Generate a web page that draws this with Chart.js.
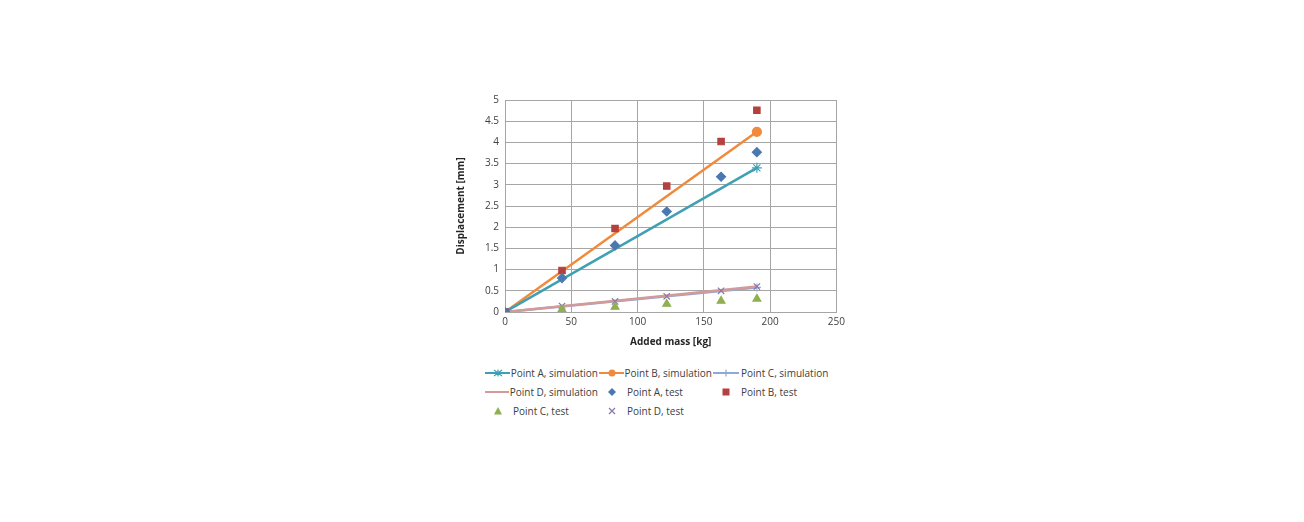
<!DOCTYPE html>
<html lang="en">
<head>
<meta charset="UTF-8">
<title>Displacement vs added mass</title>
<script src="https://cdn.jsdelivr.net/npm/chart.js"></script>
<style>
  body { margin: 0; background: #fff; font-family: "Open Sans", sans-serif; }
  #wrap { position: absolute; left: 455px; top: 88px; width: 394px; height: 264px; }
  #legend { position: absolute; left: 484px; top: 366px; display: grid;
    grid-template-columns: 114px 114px 120px; row-gap: 5px; font-size: 10px; color: #404040; }
  #legend div { display: flex; align-items: center; white-space: nowrap; }
  #legend svg { margin-right: 1px; }
</style>
</head>
<body>
<div id="wrap"><canvas id="myChart"></canvas></div>
<div id="legend"></div>
<script>
const simMass = [0, 190];
const simA = [0, 3.4];
const simB = [0, 4.25];
const simC = [0, 0.58];
const simD = [0, 0.6];

const testMass = [0, 43, 83, 122, 163, 190];
const testA = [0, 0.8, 1.57, 2.37, 3.19, 3.77];
const testB = [0, 0.98, 1.97, 2.97, 4.02, 4.76];
const testC = [0, 0.06, 0.12, 0.19, 0.26, 0.31];
const testD = [0, 0.14, 0.25, 0.37, 0.5, 0.6];

function pts(xs, ys) { return xs.map((x, i) => ({ x: x, y: ys[i] })); }

const series = [
  { label: 'Point A, simulation', data: pts(simMass, simA), color: '#3fa0b4', line: true, style: 'star', order: 2 },
  { label: 'Point B, simulation', data: pts(simMass, simB), color: '#f08a3c', line: true, style: 'circle', order: 2 },
  { label: 'Point C, simulation', data: pts(simMass, simC), color: '#8fa9d6', line: true, style: 'cross', order: 4 },
  { label: 'Point D, simulation', data: pts(simMass, simD), color: '#d49a98', line: true, style: false, order: 3 },
  { label: 'Point A, test', data: pts(testMass, testA), color: '#4a78b0', line: false, style: 'rectRot', order: 1 },
  { label: 'Point B, test', data: pts(testMass, testB), color: '#b5413e', line: false, style: 'rect', order: 1 },
  { label: 'Point C, test', data: pts(testMass, testC), color: '#8fb050', line: false, style: 'triangle', order: 1 },
  { label: 'Point D, test', data: pts(testMass, testD), color: '#8a78a8', line: false, style: 'crossRot', order: 1 }
];

const sizes = { star: 5, circle: 4.5, cross: 4, rectRot: 4.5, rect: 4.5, triangle: 4.5, crossRot: 4.5 };

const datasets = series.map(s => ({
  label: s.label,
  data: s.data,
  showLine: s.line,
  borderColor: s.color,
  backgroundColor: s.color,
  borderWidth: s.line ? 2.5 : 1,
  pointStyle: s.style,
  pointRadius: s.style ? sizes[s.style] : 0,
  pointBorderWidth: 1.2,
  order: s.order
}));
// only show simulation markers at the end point
datasets.slice(0, 4).forEach(d => { d.pointRadius = d.data.map((p, i) => i === 0 ? 0 : d.pointRadius); });

const tickFont = { family: 'Open Sans', size: 10 };
const grid = { color: '#a6a6a6', lineWidth: 1, drawTicks: false };

new Chart(document.getElementById('myChart'), {
  type: 'scatter',
  data: { datasets: datasets },
  options: {
    responsive: true,
    maintainAspectRatio: false,
    animation: false,
    layout: { padding: { top: 9, right: 6 } },
    plugins: { legend: { display: false }, tooltip: { enabled: false } },
    scales: {
      x: {
        min: 0, max: 250,
        ticks: { stepSize: 50, color: '#404040', font: tickFont, padding: 4 },
        grid: grid, border: { color: '#a6a6a6' },
        title: { display: true, text: 'Added mass [kg]', color: '#262626',
                 font: { family: 'Open Sans', size: 10, weight: 'bold' }, padding: { top: 4 } }
      },
      y: {
        min: 0, max: 5,
        afterFit: a => { a.width = 50; },
        ticks: { stepSize: 0.5, color: '#404040', font: tickFont, padding: 6,
                 callback: v => String(v) },
        grid: grid, border: { color: '#a6a6a6' },
        title: { display: true, text: 'Displacement [mm]', color: '#262626',
                 font: { family: 'Open Sans', size: 10, weight: 'bold' }, padding: 0 }
      }
    }
  }
});

// html legend laid out in three columns like the original
function markerSvg(s) {
  const c = s.color;
  const line = s.line ? `<line x1="1" y1="6" x2="27" y2="6" stroke="${c}" stroke-width="2"/>` : '';
  let m = '';
  if (s.style === 'star') m = `<path d="M10 3 L18 9 M10 9 L18 3 M14 2.5 V9.5 M10 6 H18" stroke="${c}" stroke-width="1.2"/>`;
  if (s.style === 'circle') m = `<circle cx="14" cy="6" r="3.5" fill="${c}"/>`;
  if (s.style === 'cross') m = `<path d="M14 2.5 V9.5 M10.5 6 H17.5" stroke="${c}" stroke-width="1.2"/>`;
  if (s.style === 'rectRot') m = `<path d="M14 2 L18 6 L14 10 L10 6 Z" fill="${c}"/>`;
  if (s.style === 'rect') m = `<rect x="10.5" y="2.5" width="7" height="7" fill="${c}"/>`;
  if (s.style === 'triangle') m = `<path d="M14 2 L18 9.5 L10 9.5 Z" fill="${c}"/>`;
  if (s.style === 'crossRot') m = `<path d="M11 3 L17 9 M17 3 L11 9" stroke="${c}" stroke-width="1.2"/>`;
  return `<svg width="28" height="12">${line}${m}</svg>`;
}
const legend = document.getElementById('legend');
series.forEach(s => {
  const d = document.createElement('div');
  d.innerHTML = markerSvg(s) + '<span>' + s.label + '</span>';
  legend.appendChild(d);
});
</script>
</body>
</html>
